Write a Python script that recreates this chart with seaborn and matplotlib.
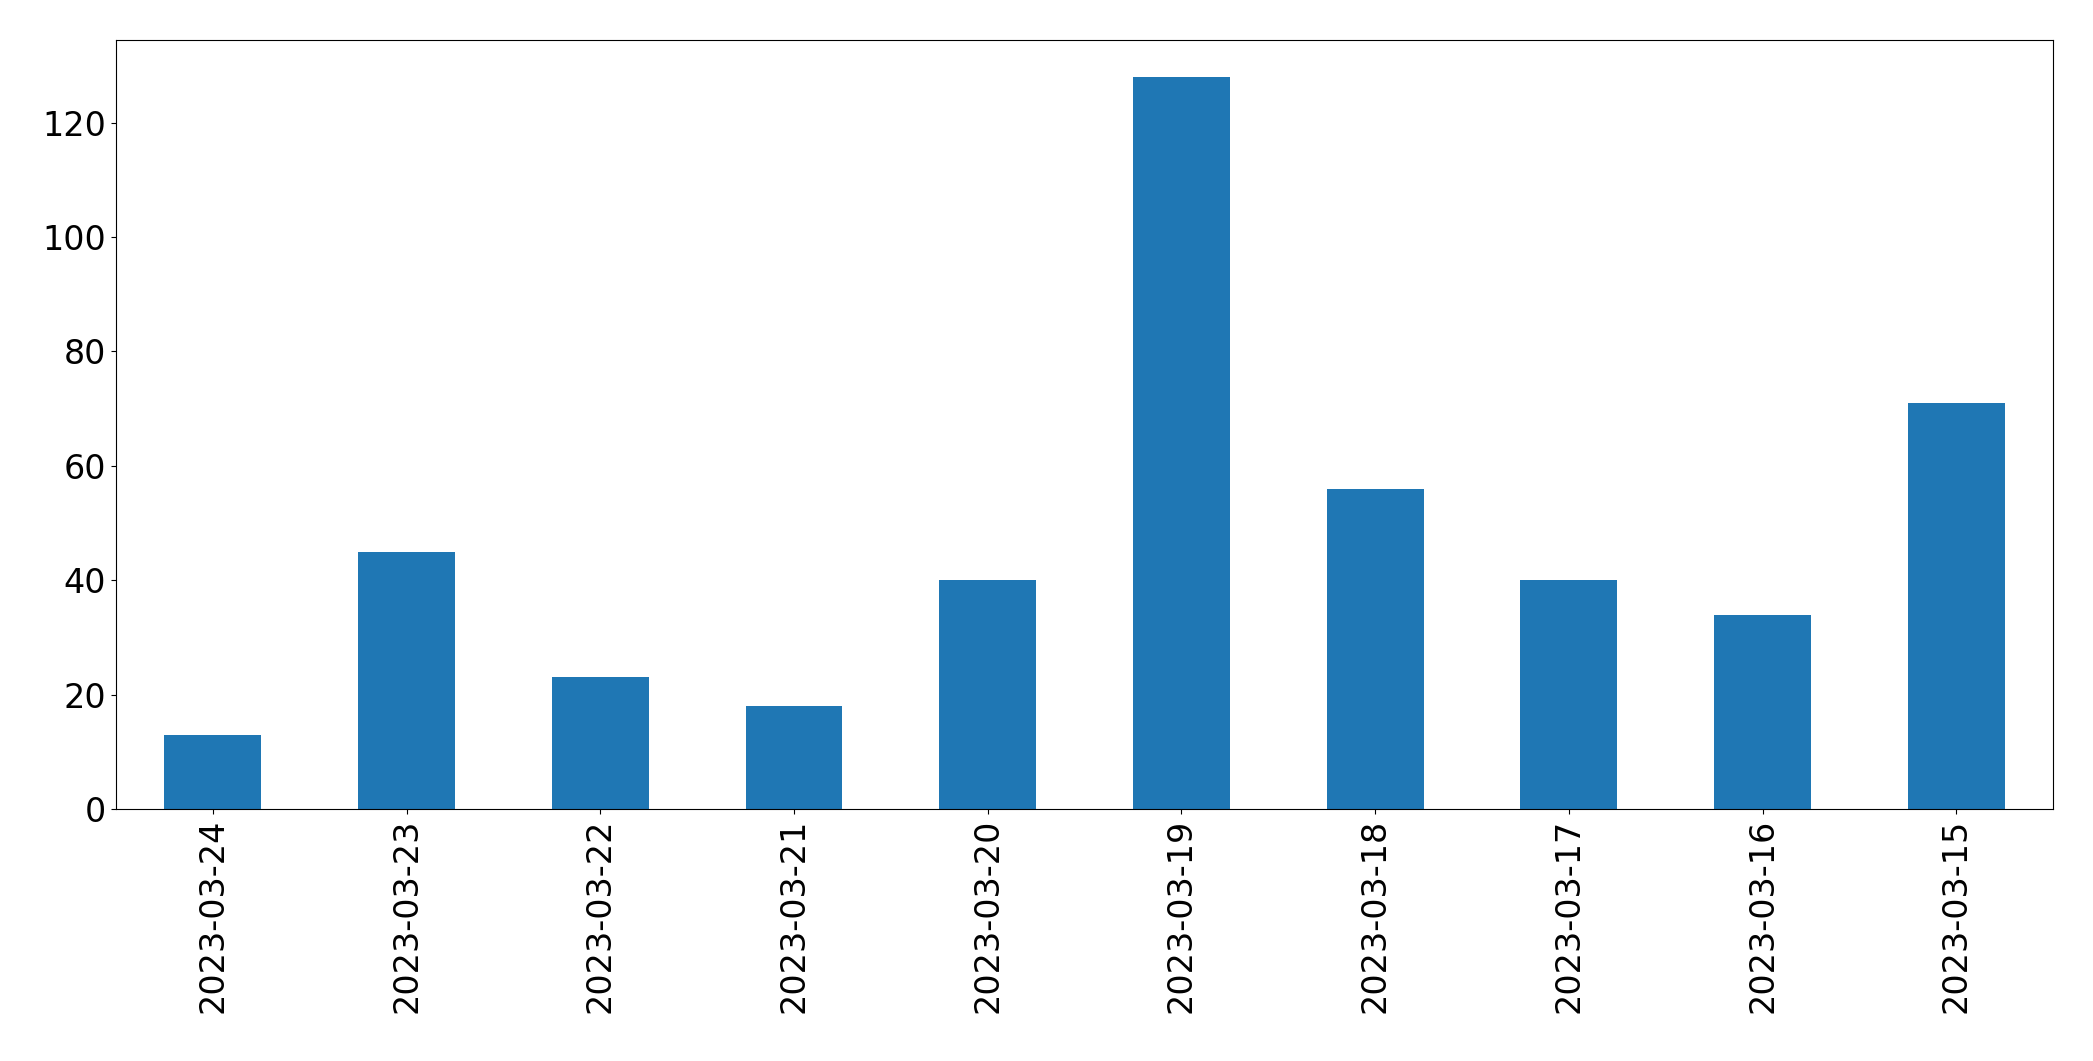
import matplotlib
matplotlib.use("Agg")
import matplotlib.pyplot as plt
import pandas as pd
import seaborn as sns

# Daily counts, in the order shown (newest first)
dates = [
    "2023-03-24", "2023-03-23", "2023-03-22", "2023-03-21", "2023-03-20",
    "2023-03-19", "2023-03-18", "2023-03-17", "2023-03-16", "2023-03-15",
]
counts = [13, 45, 23, 18, 40, 128, 56, 40, 34, 71]

df = pd.DataFrame({"date": dates, "count": counts})

fig, ax = plt.subplots(figsize=(20.93, 10.61), dpi=100)
sns.barplot(data=df, x="date", y="count", order=dates, color="#1f77b4",
            saturation=1, width=0.5, ax=ax)

ax.set_xlim(-0.5, len(dates) - 0.5)
ax.set_ylim(0, max(counts) * 1.05)
ax.set_xlabel("")
ax.set_ylabel("")
ax.tick_params(axis="both", labelsize=24)
ax.tick_params(axis="x", labelrotation=90)

fig.subplots_adjust(left=0.0554, right=0.981, top=0.962, bottom=0.2375)
fig.savefig("out.png", dpi=100)
